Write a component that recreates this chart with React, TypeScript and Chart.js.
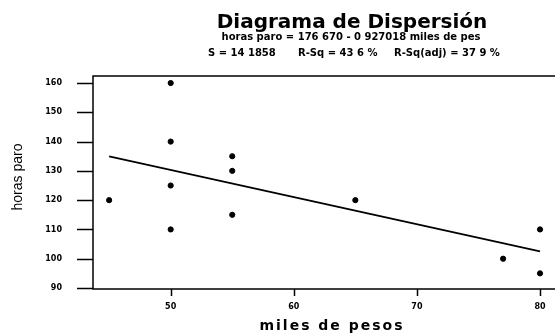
import React, { useEffect, useRef } from "react";
import { Chart, registerables } from "chart.js";

Chart.register(...registerables);

const titleText = "Diagrama de Dispersión";
const equationText = "horas paro = 176 670 - 0 927018 miles de pes";
const statsTexts = ["S = 14 1858", "R-Sq = 43 6 %", "R-Sq(adj) = 37 9 %"];
const xTitle = "miles de pesos";
const yTitle = "horas paro";

const milesDePesos = [45, 50, 50, 50, 50, 55, 55, 55, 65, 77, 80, 80];
const horasParo = [120, 160, 140, 125, 110, 135, 130, 115, 120, 100, 110, 95];

const fitX = [45, 80];
const fitY = [134.95, 102.51];

const xTicks = [50, 60, 70, 80];
const yTicks = [90, 100, 110, 120, 130, 140, 150, 160];

const BOLD = "'DejaVu Sans', 'Liberation Sans', Arial, sans-serif";
const NARROW = "'Liberation Sans Narrow', 'Liberation Sans', Arial, sans-serif";

const headerPlugin = {
  id: "header",
  afterDraw(chart: any) {
    const { ctx, chartArea, scales, width } = chart;
    ctx.save();
    ctx.strokeStyle = "#000";
    ctx.lineWidth = 1.5;
    ctx.beginPath();
    ctx.moveTo(width, chartArea.bottom);
    ctx.lineTo(chartArea.left, chartArea.bottom);
    ctx.lineTo(chartArea.left, chartArea.top);
    ctx.lineTo(width, chartArea.top);
    ctx.stroke();

    // tick marks
    ctx.beginPath();
    yTicks.forEach((v) => {
      const y = Math.round(scales.y.getPixelForValue(v)) + 0.5;
      ctx.moveTo(chartArea.left - 16, y);
      ctx.lineTo(chartArea.left, y);
    });
    xTicks.forEach((v) => {
      const x = Math.round(scales.x.getPixelForValue(v)) + 0.5;
      ctx.moveTo(x, chartArea.bottom);
      ctx.lineTo(x, chartArea.bottom + 7);
    });
    ctx.stroke();

    ctx.fillStyle = "#000";
    ctx.textBaseline = "alphabetic";
    ctx.textAlign = "center";
    ctx.font = `bold 20px ${BOLD}`;
    ctx.fillText(titleText, 352, 28);
    ctx.font = `bold 10px ${BOLD}`;
    ctx.fillText(equationText, 351, 40);
    ctx.textAlign = "left";
    const xs = [208, 298, 394];
    statsTexts.forEach((t, i) => ctx.fillText(t, xs[i], 56));

    ctx.textAlign = "center";
    ctx.font = `bold 14px ${BOLD}`;
    (ctx as any).letterSpacing = "2px";
    ctx.fillText(xTitle, 332, 330);
    (ctx as any).letterSpacing = "0px";

    ctx.save();
    ctx.translate(18, 177);
    ctx.rotate(-Math.PI / 2);
    ctx.font = `14px ${NARROW}`;
    ctx.textBaseline = "middle";
    ctx.fillText(yTitle, 0, 0);
    ctx.restore();
    ctx.restore();
  },
};

export default function App() {
  const ref = useRef<HTMLCanvasElement>(null);
  useEffect(() => {
    document.body.style.margin = "0";
    const chart = new Chart(ref.current!, {
      type: "scatter",
      data: {
        datasets: [
          {
            type: "scatter",
            data: milesDePesos.map((x, i) => ({ x, y: horasParo[i] })),
            backgroundColor: "#000",
            borderColor: "#000",
            pointRadius: 2.6,
          },
          {
            type: "line",
            data: fitX.map((x, i) => ({ x, y: fitY[i] })),
            borderColor: "#000",
            borderWidth: 1.6,
            pointRadius: 0,
            fill: false,
          } as any,
        ],
      },
      options: {
        animation: false,
        responsive: false,
        layout: { padding: { top: 76, left: 0, right: 0, bottom: 0 } },
        plugins: { legend: { display: false }, tooltip: { enabled: false } },
        scales: {
          x: {
            type: "linear",
            min: 43.69,
            max: 80.81,
            afterFit: (s: any) => { s.height = 44; },
            afterBuildTicks: (s: any) => { s.ticks = xTicks.map((v) => ({ value: v })); },
            grid: { drawOnChartArea: false, drawTicks: true, tickLength: 13, tickColor: "rgba(0,0,0,0)" },
            border: { display: false },
            ticks: { color: "#000", font: { family: BOLD, size: 8, weight: "bold" }, padding: 0 },
          },
          y: {
            type: "linear",
            min: 89.66,
            max: 162.4,
            afterFit: (s: any) => { s.width = 93; },
            afterBuildTicks: (s: any) => { s.ticks = yTicks.map((v) => ({ value: v })); },
            grid: { drawOnChartArea: false, drawTicks: true, tickLength: 16, tickColor: "rgba(0,0,0,0)" },
            border: { display: false },
            ticks: { color: "#000", font: { family: BOLD, size: 8, weight: "bold" }, padding: 15 },
          },
        },
      },
      plugins: [headerPlugin],
    });
    return () => chart.destroy();
  }, []);
  return <canvas ref={ref} width={555} height={333} style={{ display: "block" }} />;
}
